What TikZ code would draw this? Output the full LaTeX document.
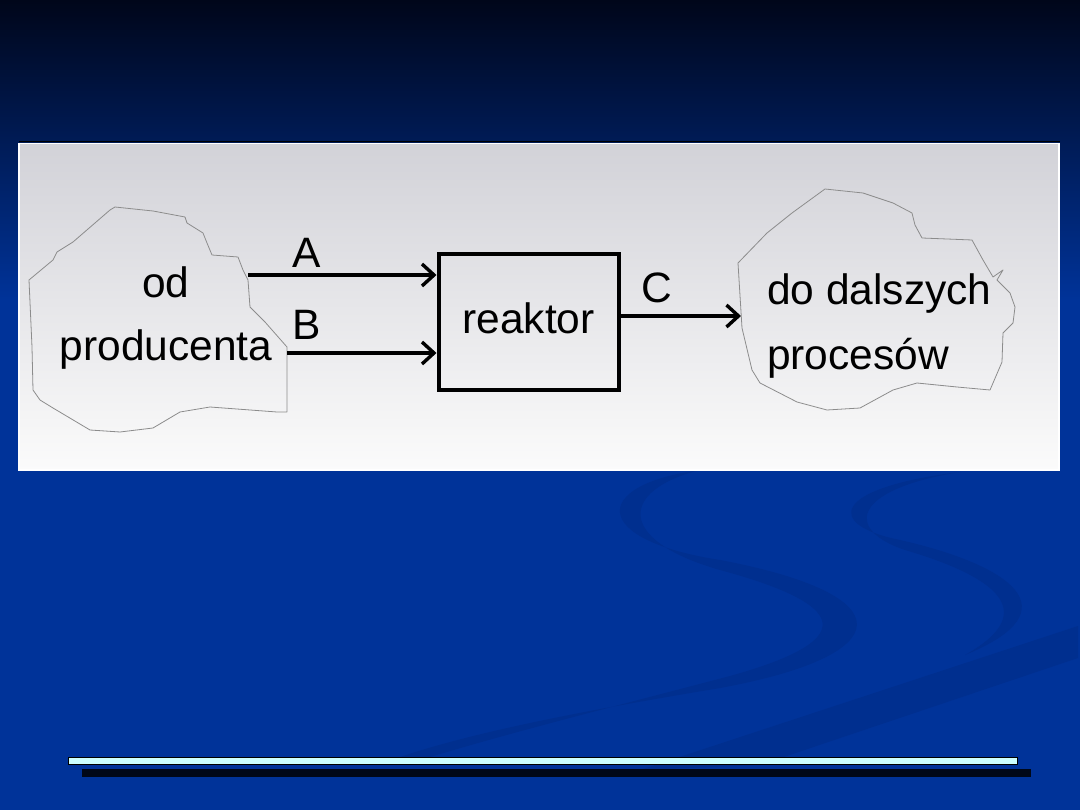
\documentclass[tikz,border=0pt]{standalone}
\usepackage{fontspec}
\setmainfont{Liberation Sans}
\usepackage{xcolor}
\usepackage{tikz}
\usetikzlibrary{calc,arrows.meta,positioning}
\definecolor{bgblue}{HTML}{003399}
\definecolor{bgtop}{HTML}{00061A}
\definecolor{swoosh}{HTML}{002F8F}
\definecolor{paneltop}{HTML}{D2D2D8}
\definecolor{panelbot}{HTML}{FBFBFB}
\definecolor{blobline}{HTML}{8C8C8C}
\definecolor{barcyan}{HTML}{CCFFFF}
\definecolor{barshade}{HTML}{000818}
\tikzset{
  ar/.style={-{Straight Barb[length=12pt,width=22pt,line width=3.4pt]},line width=3.4pt,black},
  box/.style={draw=black,line width=4pt,minimum width=180pt,minimum height=136pt,inner sep=0pt,text depth=9.5pt},
  blob/.style={draw=blobline,line width=0.8pt,line join=round},
  txt/.style={font=\fontsize{42.5}{50}\selectfont,inner sep=0pt}
}
\begin{document}
\begin{tikzpicture}[x=1pt,y=-1pt]
\useasboundingbox (0,0) rectangle (1080,810);
\fill[bgblue] (0,0) rectangle (1080,810);
\shade[top color=bgtop,bottom color=bgblue] (0,0) rectangle (1080,300);
\fill[swoosh] (700,470) .. controls (590,485) and (590,540) .. (720,560)
  .. controls (905,595) and (900,655) .. (720,688) .. controls (600,708) and (480,730) .. (400,757)
  -- (430,757) .. controls (520,730) and (620,705) .. (730,676)
  .. controls (860,640) and (850,605) .. (720,570) .. controls (615,540) and (620,490) .. (700,470) -- cycle;
\fill[swoosh] (960,472) .. controls (830,488) and (825,525) .. (900,540)
  .. controls (1010,565) and (1075,610) .. (965,655)
  .. controls (1045,610) and (990,575) .. (905,550) .. controls (845,530) and (850,490) .. (960,472) -- cycle;
\fill[swoosh] (640,770) -- (1078,626) -- (1078,658) -- (760,765) -- cycle;
\draw[black,line width=1pt] (19,142) -- (1060,142);
\shade[top color=paneltop,bottom color=panelbot,draw=white,line width=1.2pt] (19,143.5) rectangle (1059,470);
\draw[blob] (115,207) -- (153,211) -- (185,217) -- (187,223) -- (203,233) -- (207,243) -- (212,255)
  -- (238,257) -- (243,270) -- (248,280) -- (250,307) -- (265,322) -- (287,347) -- (287,412)
  -- (277,412) -- (210,407) -- (180,412) -- (153,428) -- (120,432) -- (90,430) -- (53,408)
  -- (40,400) -- (33,390) -- (32,347) -- (29,280) -- (53,260) -- (57,252) -- (73,242) -- (110,210) -- cycle;
\draw[blob] (825,189) -- (863,193) -- (893,203) -- (912,213) -- (915,225) -- (922,238) -- (972,240)
  -- (983,260) -- (993,277) -- (1003,270) -- (997,280) -- (1010,293) -- (1015,307) -- (1013,323)
  -- (1003,333) -- (1002,362) -- (990,390) -- (957,387) -- (917,383) -- (893,390) -- (860,408)
  -- (827,410) -- (797,402) -- (760,383) -- (752,370) -- (742,328) -- (738,263) -- (767,233) -- (792,213) -- cycle;
\node[box,txt] (reaktor) at (528.5,322.5) {reaktor};
\node[txt,anchor=base] (src1) at (166,298) {od};
\node[txt,anchor=base] (src2) at (166,361) {producenta};
\node[txt,anchor=base west] (dst1) at (767,305) {do dalszych};
\node[txt,anchor=base west] (dst2) at (767,370) {procesów};
\coordinate (inA) at (248,275);
\coordinate (inB) at (287,353);
\coordinate (outC) at (741,316);
\draw[ar] (inA) -- (inA -| reaktor.west);
\draw[ar] (inB) -- (inB -| reaktor.west);
\draw[ar] (outC -| reaktor.east) -- (outC);
\node[txt,anchor=base] (labA) at (307,268) {A};
\node[txt,anchor=base] (labB) at (307,340) {B};
\node[txt,anchor=base] (labC) at (657,303) {C};
\draw[black,fill=barcyan,line width=0.8pt] (68,757) rectangle (1017,764);
\fill[barshade] (82,769) rectangle (1031,777);
\end{tikzpicture}
\end{document}
